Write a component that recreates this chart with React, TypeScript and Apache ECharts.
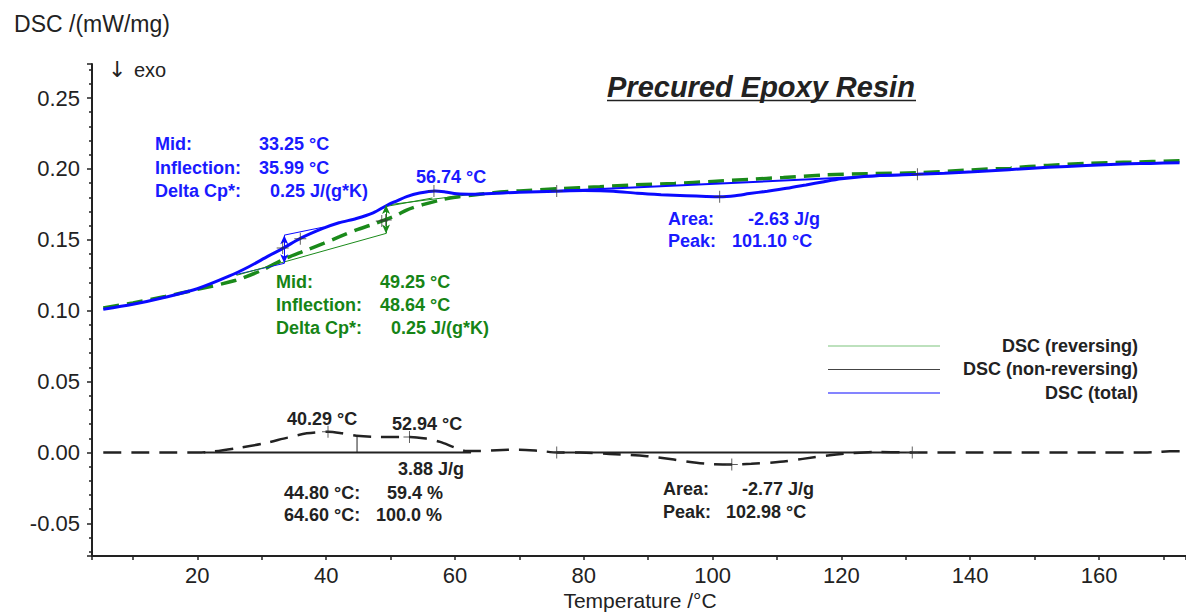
import React, { useEffect, useRef } from "react";
import * as echarts from "echarts";

// ---- Data ----
const totalT = [5.4, 10, 15, 20, 25, 28, 31, 33.5, 36, 39.5, 42, 44.7, 47.3, 49.4, 51, 52.5, 54.5, 56.9, 58.5, 60.3, 63, 66.5, 70, 75.8, 80, 84.6, 88.3, 92, 95.9, 99, 101.1, 103.5, 105.7, 108.5, 111.5, 114.5, 117.3, 120, 123.1, 127, 131.8, 136, 140.5, 146, 152.1, 158, 163.7, 168, 172.5];
const totalV = [0.101, 0.1045, 0.1095, 0.1155, 0.1245, 0.131, 0.1385, 0.1445, 0.151, 0.158, 0.162, 0.165, 0.169, 0.1742, 0.1775, 0.1805, 0.183, 0.1845, 0.1838, 0.1825, 0.1822, 0.1828, 0.1836, 0.1843, 0.1847, 0.1843, 0.1828, 0.1818, 0.1811, 0.1806, 0.1804, 0.1811, 0.1826, 0.1843, 0.1863, 0.1887, 0.191, 0.193, 0.1945, 0.1955, 0.1962, 0.197, 0.198, 0.1995, 0.2011, 0.2024, 0.2035, 0.2039, 0.2044];

const revT = [5.4, 10, 15, 20, 26, 30, 33.5, 36.5, 39.6, 42, 44.7, 47, 49.1, 51, 52.5, 55, 57.7, 60, 62.9, 66, 70, 76, 82.5, 88, 94.1, 100, 105.7, 111, 117.3, 124, 131.8, 139, 146.3, 152, 157.9, 165, 172.5];
const revV = [0.102, 0.1055, 0.11, 0.115, 0.1215, 0.1285, 0.1365, 0.142, 0.1475, 0.152, 0.157, 0.1605, 0.164, 0.1675, 0.171, 0.1748, 0.178, 0.18, 0.1816, 0.1832, 0.1845, 0.186, 0.1874, 0.1888, 0.1898, 0.1912, 0.1926, 0.194, 0.1957, 0.1966, 0.1973, 0.199, 0.2008, 0.2025, 0.2039, 0.2048, 0.2058];

const nonRevT = [5.4, 10, 15, 20, 22, 26, 30.2, 34, 37, 40.3, 42.5, 44.7, 48.4, 53, 55.5, 57.7, 60, 61.8, 64, 66.5, 70, 73, 76, 79.4, 84, 89.8, 94, 97.5, 100, 103, 106, 110.5, 114, 118.2, 122, 126, 131, 140, 150, 160, 166, 169, 171, 173];
const nonRevV = [0, 0, 0, 0, 0.0004, 0.003, 0.0063, 0.0105, 0.0135, 0.0146, 0.0135, 0.0118, 0.011, 0.011, 0.0098, 0.0075, 0.0035, 0.001, 0.001, 0.0016, 0.002, 0.0012, 0, 0, -0.001, -0.0026, -0.005, -0.0073, -0.0082, -0.0085, -0.008, -0.0066, -0.0045, -0.0019, -0.0004, 0.0004, 0, 0, 0, 0, 0, 0.0004, 0.0008, 0.0008];

// evaluation constructions
const blueTangentLow = [[26, 0.1255], [33.5, 0.1334]];
const blueTangentHigh = [[33.5, 0.1533], [39.6, 0.159]];
const blueStep = [[33.5, 0.1334], [33.5, 0.1533]];
const greenTangentLow = [[26.1, 0.125], [49.3, 0.1545]];
const greenTangentHigh = [[49.3, 0.1745], [63.9, 0.1828]];
const greenTangentHigh2 = [[49.3, 0.1735], [56.5, 0.1795]];
const greenStep = [[49.3, 0.1545], [49.3, 0.1745]];
const blueAreaBaseline = [[75.8, 0.1844], [131.8, 0.1962]];
const nonRevBaseline1 = [[21, 0], [62.5, 0]];
const nonRevBaseline2 = [[75.8, 0], [131, 0]];
const nonRevSplit = [[44.8, 0], [44.8, 0.0118]];

const markerPoints = [
  [33.25, 0.1443], [35.99, 0.1508], [56.74, 0.1845], [75.8, 0.1844], [101.1, 0.1804], [131.8, 0.1962],
  [49.25, 0.164], [48.64, 0.1632],
  [40.29, 0.0146], [52.94, 0.011], [102.98, -0.0085], [75.8, 0], [131, 0],
];

const FONT = '"Liberation Sans", Arial, sans-serif';
const BLUE = "#0a0aff";
const BLUE_TXT = "#1a1aff";
const GREEN = "#1a8a1a";
const GREEN_TXT = "#168416";
const DARK = "#222222";

const zip = (t: number[], v: number[]) => t.map((x, i) => [x, v[i]]);

const txt = (text: string, x: number, y: number, fill: string, size = 18, weight = "bold", align = "left", family = FONT) => ({
  type: "text",
  x,
  y,
  silent: true,
  style: {
    text,
    fill,
    fontSize: size,
    fontWeight: weight,
    fontFamily: family,
    align,
    verticalAlign: "middle",
  },
});

export default function App() {
  const ref = useRef<HTMLDivElement>(null);
  useEffect(() => {
    const chart = echarts.init(ref.current!, null, { renderer: "svg" });
    const thin = (name: string, data: number[][], color: string, width = 1) => ({
      type: "line",
      name,
      data,
      symbol: "none",
      showSymbol: false,
      silent: true,
      lineStyle: { color, width },
      z: 3,
    });
    const arrow = (name: string, data: number[][], color: string) => ({
      type: "line",
      name,
      data: [],
      silent: true,
      markLine: {
        silent: true,
        symbol: ["arrow", "arrow"],
        symbolSize: [6, 9],
        label: { show: false },
        lineStyle: { color, width: 1, type: "solid" },
        data: [[{ coord: data[0] }, { coord: data[1] }]],
      },
      z: 3,
    });
    const option: any = {
      animation: false,
      backgroundColor: "#ffffff",
      textStyle: { fontFamily: FONT },
      grid: { left: 92, top: 64, width: 1094, height: 492, containLabel: false, outerBoundsMode: "none" },
      xAxis: {
        type: "value",
        min: 3.65,
        max: 173.5,
        splitNumber: 8,
        axisLine: { show: true, onZero: false, lineStyle: { color: DARK, width: 2 } },
        axisTick: { show: true, inside: false, length: 4, lineStyle: { color: DARK, width: 1.5 } },
        minorTick: { show: true, splitNumber: 2, length: 4, lineStyle: { color: DARK, width: 1.5 } },
        splitLine: { show: false },
        minorSplitLine: { show: false },
        axisLabel: { fontSize: 22, color: DARK, margin: 8, showMinLabel: false, showMaxLabel: false, fontFamily: FONT },
      },
      yAxis: {
        type: "value",
        min: -0.073,
        max: 0.274,
        splitNumber: 7,
        name: "DSC /(mW/mg)",
        nameLocation: "end",
        nameGap: 29,
        nameTextStyle: { fontSize: 23, color: DARK, fontFamily: FONT },
        axisLine: { show: true, onZero: false, lineStyle: { color: DARK, width: 2 } },
        axisTick: { show: true, inside: false, length: 5, lineStyle: { color: DARK, width: 1.5 } },
        minorTick: { show: true, splitNumber: 5, length: 3, lineStyle: { color: DARK, width: 1.5 } },
        splitLine: { show: false },
        minorSplitLine: { show: false },
        axisLabel: {
          fontSize: 22,
          color: DARK,
          margin: 12,
          showMinLabel: false,
          showMaxLabel: false,
          fontFamily: FONT,
          formatter: (v: number) => v.toFixed(2),
        },
      },
      series: [
        {
          type: "line",
          name: "DSC (non-reversing)",
          data: zip(nonRevT, nonRevV),
          smooth: 0.3,
          symbol: "none",
          showSymbol: false,
          lineStyle: { color: DARK, width: 2.5, type: [18, 10] },
          z: 2,
        },
        {
          type: "line",
          name: "DSC (reversing)",
          data: zip(revT, revV),
          smooth: 0.3,
          symbol: "none",
          showSymbol: false,
          lineStyle: { color: GREEN, width: 3.5, type: [16, 8] },
          z: 2,
        },
        {
          type: "line",
          name: "DSC (total)",
          data: zip(totalT, totalV),
          smooth: 0.3,
          symbol: "none",
          showSymbol: false,
          lineStyle: { color: BLUE, width: 3 },
          z: 4,
        },
        thin("blue tangent low", blueTangentLow, BLUE),
        thin("blue tangent high", blueTangentHigh, BLUE),
        thin("green tangent low", greenTangentLow, GREEN),
        thin("green tangent high", greenTangentHigh, GREEN),
        thin("green tangent high 2", greenTangentHigh2, GREEN),
        thin("blue area baseline", blueAreaBaseline, BLUE, 2),
        thin("non-rev baseline 1", nonRevBaseline1, DARK, 2),
        thin("non-rev baseline 2", nonRevBaseline2, DARK, 2),
        thin("non-rev split", nonRevSplit, DARK, 1),
        arrow("blue step", blueStep, BLUE),
        arrow("green step", greenStep, GREEN),
        {
          type: "scatter",
          name: "markers",
          data: markerPoints,
          symbol: "path://M-0.4,-5H0.4V-0.4H5V0.4H0.4V5H-0.4V0.4H-5V-0.4H-0.4Z",
          symbolSize: 12,
          itemStyle: { color: "#333333" },
          silent: true,
          z: 6,
        },
      ],
      graphic: [
        // x axis title
        txt("Temperature /°C", 640, 600.5, DARK, 21, "normal", "center"),
        // title
        {
          type: "text",
          x: 607,
          y: 87,
          silent: true,
          style: {
            text: "Precured Epoxy Resin",
            fill: DARK,
            fontSize: 29,
            fontWeight: "bold",
            fontStyle: "italic",
            fontFamily: FONT,
            align: "left",
            verticalAlign: "middle",
          },
        },
        { type: "line", silent: true, shape: { x1: 607, y1: 100.5, x2: 916, y2: 100.5 }, style: { stroke: DARK, lineWidth: 1.5 } },
        txt("↓", 108, 69, DARK, 22, "normal", "left", '"DejaVu Sans", sans-serif'),
        txt("exo", 134, 70, DARK, 20, "normal"),
        // blue glass transition
        txt("Mid:", 155, 144, BLUE_TXT),
        txt("33.25 °C", 259, 144, BLUE_TXT),
        txt("Inflection:", 155, 167.5, BLUE_TXT),
        txt("35.99 °C", 259, 167.5, BLUE_TXT),
        txt("Delta Cp*:", 155, 191, BLUE_TXT),
        txt("0.25 J/(g*K)", 270, 191, BLUE_TXT),
        txt("56.74 °C", 416, 177, BLUE_TXT),
        txt("Area:", 668, 219, BLUE_TXT),
        txt("-2.63 J/g", 748, 219, BLUE_TXT),
        txt("Peak:", 668, 241, BLUE_TXT),
        txt("101.10 °C", 732, 241, BLUE_TXT),
        // green glass transition
        txt("Mid:", 276, 282, GREEN_TXT),
        txt("49.25 °C", 380, 282, GREEN_TXT),
        txt("Inflection:", 276, 305, GREEN_TXT),
        txt("48.64 °C", 380, 305, GREEN_TXT),
        txt("Delta Cp*:", 276, 328, GREEN_TXT),
        txt("0.25 J/(g*K)", 391, 328, GREEN_TXT),
        // non-reversing
        txt("40.29 °C", 287, 419, DARK),
        txt("52.94 °C", 392, 424, DARK),
        txt("3.88 J/g", 398, 469, DARK),
        txt("44.80 °C:", 284, 493, DARK),
        txt("59.4 %", 387, 493, DARK),
        txt("64.60 °C:", 284, 515, DARK),
        txt("100.0 %", 376, 515, DARK),
        txt("Area:", 663, 489, DARK),
        txt("-2.77 J/g", 742, 489, DARK),
        txt("Peak:", 663, 511.5, DARK),
        txt("102.98 °C", 726, 511.5, DARK),
        // legend
        { type: "line", silent: true, shape: { x1: 828, y1: 346, x2: 940, y2: 346 }, style: { stroke: "#7cc47c", lineWidth: 1.2 } },
        { type: "line", silent: true, shape: { x1: 828, y1: 369.5, x2: 940, y2: 369.5 }, style: { stroke: "#444444", lineWidth: 1 } },
        { type: "line", silent: true, shape: { x1: 828, y1: 393, x2: 940, y2: 393 }, style: { stroke: BLUE, lineWidth: 1.2 } },
        txt("DSC (reversing)", 1138, 346, DARK, 18, "bold", "right"),
        txt("DSC (non-reversing)", 1138, 369, DARK, 18, "bold", "right"),
        txt("DSC (total)", 1138, 392.5, DARK, 18, "bold", "right"),
      ],
    };
    chart.setOption(option);
    return () => chart.dispose();
  }, []);
  return <div ref={ref} style={{ position: "fixed", left: 0, top: 0, width: 1186, height: 612 }} />;
}
